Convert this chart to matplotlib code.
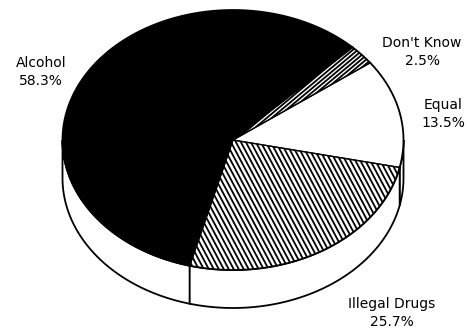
import numpy as np
import matplotlib.pyplot as plt
from matplotlib.patches import Polygon
from matplotlib.collections import LineCollection

plt.rcParams['font.family'] = ['DejaVu Sans']

labels = ['Alcohol', "Don't Know", 'Equal', 'Illegal Drugs']
shares = [58.3, 2.5, 13.5, 25.7]

# pie geometry (pixels, y axis pointing down)
cx, cy = 233, 140
ra, rb = 170.5, 130
depth = 38
start = 255.3  # slices run clockwise from here

label_pos = [(41, 72), (422, 52), (443, 114), (392, 313)]
faces = ['black', 'white', 'white', 'white']
# hatch angle (deg) and spacing (px); None = plain fill
hatches = [None, (40, 3.2), None, (-62, 4.4)]


def rim(t):
    t = np.radians(t)
    return cx + ra * np.cos(t), cy - rb * np.sin(t)


def hatch_lines(patch, ang, step):
    a = np.radians(ang)
    d = np.array([np.cos(a), -np.sin(a)])
    n = np.array([-d[1], d[0]])
    L = 600
    segs = []
    for k in np.arange(-L, L, step):
        p = np.array([cx, cy]) + n * k
        segs.append([p - d * L, p + d * L])
    lc = LineCollection(segs, colors='black', linewidths=1.3, zorder=3)
    ax.add_collection(lc)
    lc.set_clip_path(patch)


fig = plt.figure(figsize=(4.7, 3.29), dpi=100)
ax = fig.add_axes([0, 0, 1, 1])
ax.set_xlim(0, 470)
ax.set_ylim(329, 0)
ax.axis('off')

bounds = start - np.cumsum([0] + shares) * 3.6

# side wall, only the front half (180..360 deg) shows
for i in range(len(shares)):
    t1, t0 = bounds[i], bounds[i + 1]
    # bring the arc into the 180..360 window
    lo, hi = t0 % 360, t0 % 360 + (t1 - t0)
    lo, hi = max(lo, 180), min(hi, 360)
    if hi <= lo:
        lo2, hi2 = (t0 % 360) - 360, (t0 % 360) - 360 + (t1 - t0)
        lo, hi = max(lo2, 180), min(hi2, 360)
        if hi <= lo:
            continue
    ts = np.linspace(lo, hi, 80)
    x, y = rim(ts)
    pts = np.vstack([np.column_stack([x, y]),
                     np.column_stack([x[::-1], y[::-1] + depth])])
    ax.add_patch(Polygon(pts, closed=True, facecolor='white',
                         edgecolor='black', lw=1.3, zorder=1))

# top face wedges
for i in range(len(shares)):
    ts = np.linspace(bounds[i], bounds[i + 1], 200)
    x, y = rim(ts)
    pts = np.vstack([[cx, cy], np.column_stack([x, y])])
    wedge = Polygon(pts, closed=True, facecolor=faces[i],
                    edgecolor='none', zorder=2)
    ax.add_patch(wedge)
    if hatches[i] is not None:
        hatch_lines(wedge, *hatches[i])
    # outline along the rim and both radial edges
    ax.plot(x, y, color='black', lw=1.3, zorder=4)
    ax.plot([cx, x[0]], [cy, y[0]], color='black', lw=0.9, zorder=4)
    ax.plot([cx, x[-1]], [cy, y[-1]], color='black', lw=0.9, zorder=4)

for lab, val, (tx, ty) in zip(labels, shares, label_pos):
    ax.text(tx, ty, f'{lab}\n{val:.1f}%', ha='center', va='center',
            fontsize=10, linespacing=1.3, color='black')

fig.savefig('out.png', dpi=100)
